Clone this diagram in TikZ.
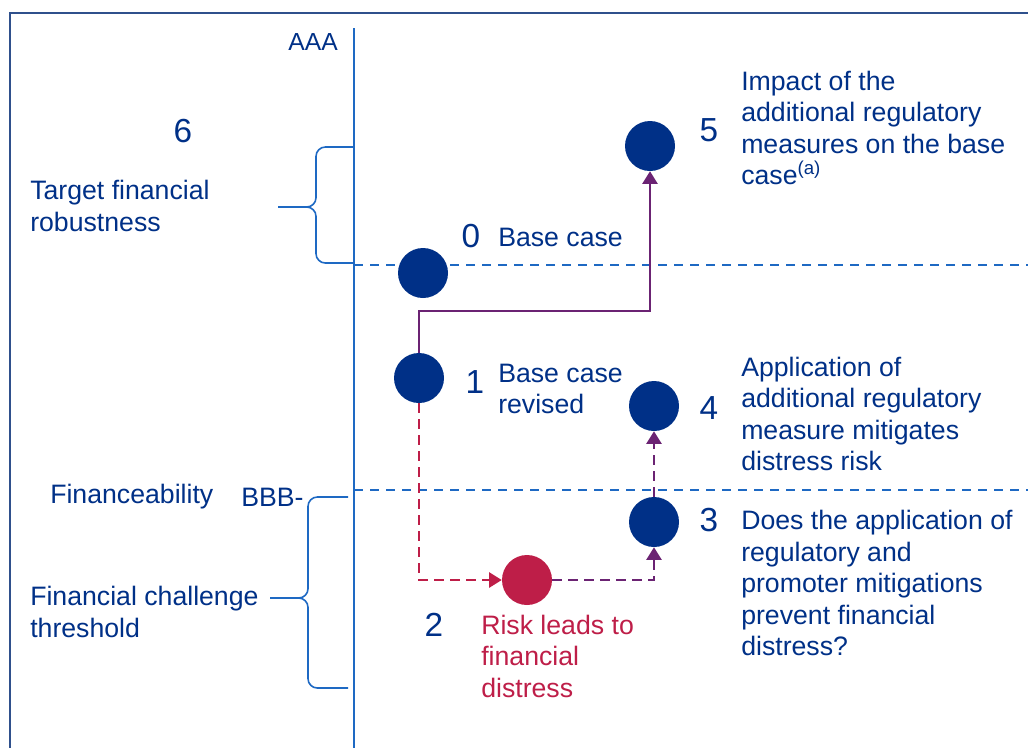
\documentclass[tikz,border=0pt]{standalone}
\usepackage{fontspec}
\setmainfont{Liberation Sans}
\usetikzlibrary{arrows.meta}
\definecolor{navy}{RGB}{0,48,135}
\definecolor{crimson}{RGB}{190,30,72}
\definecolor{plum}{RGB}{107,35,115}
\definecolor{axisblue}{RGB}{30,105,195}
\definecolor{framegrey}{RGB}{47,80,140}

\begin{document}
\begin{tikzpicture}[x=0.75pt,y=-0.75pt]
      \tikzstyle{dot}=[circle,fill=navy,inner sep=0pt,minimum size=37.5pt]
      \tikzstyle{txt}=[text=navy,inner sep=0pt,align=left,anchor=west,font=\fontsize{20}{23.6}\selectfont]
      \tikzstyle{num}=[text=navy,inner sep=0pt,font=\fontsize{25}{25}\selectfont]
      \tikzstyle{bracket}=[axisblue,line width=1.2pt,rounded corners=7pt]
      \tikzstyle{level}=[axisblue,line width=1.3pt,dash pattern=on 7pt off 5pt]
      \tikzstyle{flow}=[plum,line width=1.3pt,-{Triangle[width=11.5pt,length=9.5pt]}]

      \useasboundingbox (0,0) rectangle (1028,747);
      \clip (0,0) rectangle (1028,747);
      \draw[framegrey,line width=1.6pt] (10,13) rectangle (1040,760);

      % axis and levels
      \draw[axisblue,line width=1.5pt] (354,28) -- (354,750);
      \draw[level] (354,265) -- (1030,265);
      \draw[level] (354,490) -- (1030,490);
      \node[text=navy,inner sep=0pt,anchor=east,font=\fontsize{18.5}{18.5}\selectfont] (aaa) at (338,42) {AAA};

      % braces
      \draw[bracket] (354,147) -- (316,147) -- (316,207) -- (278,207);
      \draw[bracket] (278,207) -- (316,207) -- (316,263) -- (354,263);
      \draw[bracket] (348,497) -- (308,497) -- (308,598) -- (270,598);
      \draw[bracket] (270,598) -- (308,598) -- (308,688) -- (348,688);

      \node[num] (k6) at (183,131) {6};
      \node[txt] (robust) at (30,206) {Target financial\\robustness};
      \node[txt] (fin) at (50,497) {Financeability};
      \node[txt] (bbb) at (241,497) {BBB-};
      \node[txt] (challenge) at (30,612) {Financial challenge\\threshold};

      % cases
      \node[dot] (n0) at (423,273) {};
      \node[dot] (n1) at (419,378) {};
      \node[dot,fill=crimson] (n2) at (527,580) {};
      \node[dot] (n3) at (654,522) {};
      \node[dot] (n4) at (654,406) {};
      \node[dot] (n5) at (650,146) {};

      \draw[flow] (n1.north) -- ++(0,-42) -| (n5.south);
      \draw[flow,crimson,dash pattern=on 7pt off 5pt] (n1.south) |- (n2.west);
      \draw[flow,dash pattern=on 7pt off 5pt] (n2.east) -| (n3.south);
      \draw[flow,dash pattern=on 7pt off 5pt] (n3.north) -- (n4.south);

      \node[num] (k0) at (471,236) {0};
      \node[txt] (t0) at (498,237) {Base case};
      \node[num] (k1) at (475,382) {1};
      \node[txt] (t1) at (498,389) {Base case\\revised};
      \node[num] (k2) at (434,625) {2};
      \node[txt,text=crimson] (t2) at (481,656) {Risk leads to\\financial\\distress};
      \node[num] (k3) at (709,520) {3};
      \node[txt] (t3) at (741,583) {Does the application of\\regulatory and\\promoter mitigations\\prevent financial\\distress?};
      \node[num] (k4) at (709,408) {4};
      \node[txt] (t4) at (741,414) {Application of\\additional regulatory\\measure mitigates\\distress risk};
      \node[num] (k5) at (709,130) {5};
      \node[txt] (t5) at (741,128) {Impact of the\\additional regulatory\\measures on the base\\case\textsuperscript{(a)}};
    \end{tikzpicture}
\end{document}
